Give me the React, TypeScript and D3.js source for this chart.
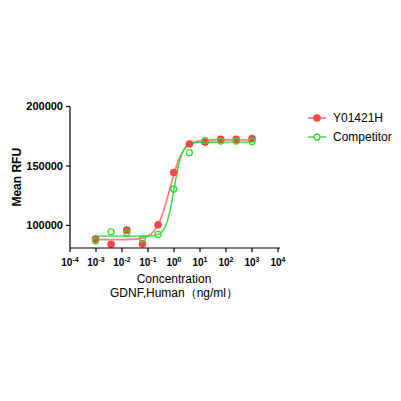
import * as d3 from 'd3';

const CONC = [0.000954, 0.00381, 0.0153, 0.061, 0.244, 0.977, 3.91, 15.6, 62.5, 250, 1000];
const SAMPLE = [88500, 84200, 96000, 84500, 100500, 144500, 168500, 170000, 172500, 172500, 173000];
const COMPETITOR = [87000, 94600, 93800, 88700, 92400, 130600, 161200, 171300, 171000, 171000, 170500];

// 4PL fit parameters: [bottom, top, logEC50, hill]
const SAMPLE_FIT = [88000, 172000, -0.17, 1.7];
const COMP_FIT = [91000, 170000, 0.0, 2.8];

const X_TICKS = [-4, -3, -2, -1, 0, 1, 2, 3, 4];
const Y_TICKS = [100000, 150000, 200000];

const SERIES = [
  { name: 'Y01421H', values: SAMPLE, fit: SAMPLE_FIT, dot: '#f44848', line: '#ff8080', width: 1.8, filled: true },
  { name: 'Competitor', values: COMPETITOR, fit: COMP_FIT, dot: '#2fdc2f', line: '#2fdc2f', width: 1.4, filled: false },
];

const FONT = 'Liberation Sans, Arial, sans-serif';

function fourPL(p: number[], lx: number) {
  const [bottom, top, logEC50, hill] = p;
  return bottom + (top - bottom) / (1 + Math.pow(10, (logEC50 - lx) * hill));
}

export default function App() {
  const x = d3.scaleLinear().domain([-4, 4]).range([70, 278]);
  const y = d3.scaleLinear().domain([81000, 200000]).range([248, 106.5]);

  const lxs = d3.range(-3.02, 3.02, 0.02);

  return (
    <svg width={401} height={401} style={{ position: 'absolute', left: 0, top: 0, background: '#fff' }} fontFamily={FONT}>
      {/* fitted curves */}
      {SERIES.map((s) => (
        <path
          key={s.name + '-fit'}
          d={d3.line<number>().x((lx) => x(lx)).y((lx) => y(fourPL(s.fit, lx)))(lxs) ?? ''}
          fill="none"
          stroke={s.line}
          strokeWidth={s.width}
        />
      ))}

      {/* points */}
      {SERIES.map((s) =>
        s.values.map((v, i) =>
          s.filled ? (
            <circle key={s.name + i} cx={x(Math.log10(CONC[i]))} cy={y(v)} r={3.8} fill={s.dot} />
          ) : (
            <circle key={s.name + i} cx={x(Math.log10(CONC[i]))} cy={y(v)} r={3} fill="none" stroke={s.dot} strokeWidth={1.3} />
          )
        )
      )}

      {/* y axis */}
      <line x1={70} x2={70} y1={y(200000)} y2={248} stroke="#000" strokeWidth={1.2} />
      {Y_TICKS.map((t) => (
        <g key={t}>
          <line x1={66} x2={70} y1={y(t)} y2={y(t)} stroke="#000" strokeWidth={1.2} />
          <text x={63} y={y(t)} dy="0.35em" textAnchor="end" fontSize={11} fontWeight="bold">{t}</text>
        </g>
      ))}
      <text transform={`translate(21,${(y(200000) + 248) / 2}) rotate(-90)`} textAnchor="middle" fontSize={12} fontWeight="bold">Mean RFU</text>

      {/* x axis */}
      <line x1={70} x2={280} y1={248} y2={248} stroke="#000" strokeWidth={1.2} />
      {X_TICKS.map((t) => (
        <g key={t}>
          <line x1={x(t)} x2={x(t)} y1={248} y2={252} stroke="#000" strokeWidth={1.2} />
          <text x={x(t)} y={266} textAnchor="middle" fontSize={10} fontWeight="bold">
            10<tspan fontSize={7} dy={-4}>{t}</tspan>
          </text>
        </g>
      ))}
      <text x={174} y={283} textAnchor="middle" fontSize={12}>Concentration</text>
      <text x={174} y={297} textAnchor="middle" fontSize={12}>GDNF,Human（ng/ml）</text>

      {/* legend */}
      {SERIES.map((s, i) => (
        <g key={s.name + '-leg'} transform={`translate(0,${118 + i * 19})`}>
          <line x1={308} x2={326} y1={0} y2={0} stroke={s.line} strokeWidth={s.width} />
          {s.filled ? (
            <circle cx={317} cy={0} r={3.8} fill={s.dot} />
          ) : (
            <circle cx={317} cy={0} r={3} fill="#fff" stroke={s.dot} strokeWidth={1.3} />
          )}
          <text x={333} y={0} dy="0.35em" fontSize={12}>{s.name}</text>
        </g>
      ))}
    </svg>
  );
}
